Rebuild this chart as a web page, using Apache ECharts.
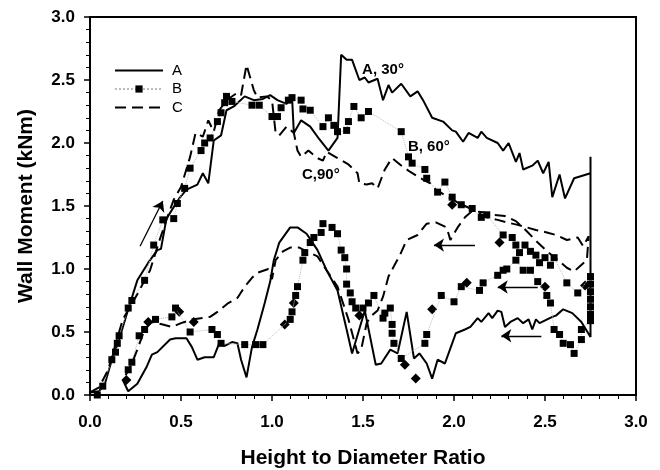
<!DOCTYPE html>
<html>
<head>
<meta charset="utf-8">
<script src="https://cdn.jsdelivr.net/npm/echarts@6/dist/echarts.min.js"></script>
<style>
html, body { margin: 0; padding: 0; background: #fff; }
#chart { width: 660px; height: 470px; }
</style>
</head>
<body>
<div id="chart"></div>
<script>
// A: solid, loading up to 2.75 then unloading back left
const curveA = [
    [0, 0.02], [0.05, 0.03], [0.08, 0.08], [0.12, 0.28], [0.16, 0.44], [0.21, 0.68], [0.26, 0.91], [0.32, 1.05],
    [0.37, 1.15], [0.39, 1.16], [0.42, 1.4], [0.49, 1.56], [0.53, 1.63], [0.59, 1.67], [0.62, 1.76], [0.65, 1.68],
    [0.68, 2.02], [0.72, 2.06], [0.75, 2.26], [0.79, 2.29], [0.85, 2.37], [0.9, 2.34], [0.95, 2.35], [0.99, 2.38],
    [1.03, 2.34], [1.08, 2.31], [1.11, 2.37], [1.12, 2.08], [1.16, 2.18], [1.21, 2.13], [1.26, 2.03], [1.31, 1.94],
    [1.36, 2.04], [1.38, 2.7], [1.41, 2.66], [1.44, 2.66], [1.48, 2.5], [1.51, 2.52], [1.53, 2.48], [1.58, 2.51],
    [1.61, 2.34], [1.64, 2.46], [1.66, 2.4], [1.71, 2.47], [1.76, 2.37], [1.8, 2.41], [1.83, 2.34], [1.88, 2.2],
    [1.94, 2.17], [1.99, 2.1], [2.01, 2.09], [2.05, 2.01], [2.08, 2.08], [2.13, 2.04], [2.15, 2.09], [2.18, 2.04],
    [2.24, 2.0], [2.27, 1.94], [2.3, 2.0], [2.34, 1.85], [2.36, 1.92], [2.38, 1.79], [2.43, 1.82], [2.46, 1.86],
    [2.49, 1.76], [2.52, 1.85], [2.54, 1.57], [2.58, 1.75], [2.61, 1.56], [2.66, 1.72], [2.75, 1.76], [2.75, 1.89],
    [2.75, 0.46],
    [2.7, 0.58], [2.65, 0.65], [2.6, 0.68], [2.56, 0.63], [2.54, 0.62], [2.47, 0.57], [2.45, 0.6], [2.43, 0.52],
    [2.41, 0.6], [2.38, 0.57], [2.35, 0.61], [2.31, 0.58], [2.28, 0.54], [2.26, 0.66], [2.24, 0.67], [2.21, 0.61],
    [2.19, 0.65], [2.15, 0.58], [2.13, 0.61], [2.09, 0.54], [2.06, 0.52], [2.01, 0.49], [1.99, 0.41], [1.95, 0.25],
    [1.91, 0.28], [1.88, 0.13], [1.85, 0.25], [1.81, 0.33], [1.78, 0.29], [1.74, 0.66], [1.69, 0.33], [1.65, 0.36],
    [1.6, 0.25], [1.57, 0.24], [1.51, 0.67], [1.44, 0.33], [1.41, 0.52], [1.36, 0.83], [1.3, 0.99], [1.25, 1.15],
    [1.19, 1.28], [1.14, 1.33], [1.1, 1.33], [1.04, 1.21], [1.01, 1.07], [0.99, 0.9], [0.96, 0.73], [0.92, 0.52],
    [0.89, 0.38], [0.86, 0.14], [0.83, 0.28], [0.81, 0.41], [0.78, 0.42], [0.74, 0.39], [0.71, 0.41], [0.68, 0.3],
    [0.63, 0.3], [0.59, 0.28], [0.56, 0.38], [0.53, 0.45], [0.47, 0.45], [0.44, 0.44], [0.37, 0.34], [0.34, 0.32],
    [0.31, 0.22], [0.26, 0.09], [0.21, 0.03], [0.18, 0.12]
];

// B: squares joined by a faint dotted line
const curveB = [
    [0.04, 0.0], [0.07, 0.07], [0.12, 0.28], [0.14, 0.34], [0.15, 0.41], [0.16, 0.47], [0.21, 0.69], [0.23, 0.75],
    [0.3, 0.91], [0.35, 1.19], [0.4, 1.39], [0.46, 1.4], [0.48, 1.52], [0.52, 1.64], [0.55, 1.8], [0.61, 1.94],
    [0.63, 2.0], [0.66, 2.04], [0.7, 2.17], [0.72, 2.24], [0.74, 2.32], [0.75, 2.37], [0.78, 2.33], [0.89, 2.3],
    [0.93, 2.3], [1.0, 2.21], [1.03, 2.21], [1.05, 2.28], [1.09, 2.34], [1.11, 2.36], [1.16, 2.34], [1.17, 2.27],
    [1.21, 2.26], [1.28, 2.13], [1.31, 2.2], [1.34, 2.14], [1.36, 2.09], [1.41, 2.1], [1.42, 2.17], [1.45, 2.29],
    [1.49, 2.2], [1.53, 2.25], [1.71, 2.09], [1.75, 1.89], [1.77, 1.84], [1.84, 1.79], [1.85, 1.72], [1.91, 1.61],
    [1.95, 1.69], [1.99, 1.57], [2.04, 1.51], [2.1, 1.48], [2.15, 1.41], [2.18, 1.43], [2.27, 1.27], [2.32, 1.25],
    [2.34, 1.19], [2.36, 1.13], [2.39, 1.19], [2.42, 1.14], [2.45, 1.11], [2.47, 1.05], [2.5, 1.09], [2.53, 1.03],
    [2.55, 1.09], [2.62, 0.89], [2.68, 0.81], [2.75, 0.94], [2.75, 0.88], [2.75, 0.82], [2.75, 0.76], [2.75, 0.7],
    [2.75, 0.64], [2.75, 0.59],
    [2.7, 0.52], [2.7, 0.44], [2.66, 0.33], [2.64, 0.4], [2.6, 0.41], [2.58, 0.48], [2.55, 0.52], [2.53, 0.73],
    [2.51, 0.79], [2.46, 0.9], [2.42, 0.99], [2.38, 0.99], [2.34, 1.07], [2.29, 1.0], [2.27, 0.99], [2.24, 0.95],
    [2.16, 0.89], [2.14, 0.83], [2.04, 0.86], [2.0, 0.74], [1.93, 0.79], [1.85, 0.48], [1.84, 0.41], [1.71, 0.29],
    [1.67, 0.41], [1.66, 0.49], [1.66, 0.56], [1.65, 0.69], [1.62, 0.65], [1.61, 0.61], [1.56, 0.79], [1.53, 0.73],
    [1.5, 0.69], [1.46, 0.69], [1.44, 0.74], [1.43, 0.81], [1.41, 0.88], [1.41, 1.0], [1.4, 1.09], [1.38, 1.15],
    [1.36, 1.28], [1.33, 1.33], [1.28, 1.36], [1.27, 1.29], [1.23, 1.25], [1.21, 1.21], [1.18, 1.13], [1.17, 1.07],
    [1.14, 0.86], [1.13, 0.79], [1.11, 0.66], [1.1, 0.6], [0.95, 0.4], [0.91, 0.4], [0.85, 0.4], [0.72, 0.41],
    [0.7, 0.48], [0.67, 0.52], [0.55, 0.5], [0.47, 0.69], [0.45, 0.62], [0.36, 0.6], [0.3, 0.52], [0.27, 0.47],
    [0.23, 0.26], [0.21, 0.2]
];

// diamond-shaped points printed along B
const diamondsB = [
    [0.2, 0.12], [0.32, 0.58], [0.49, 0.66], [0.57, 0.58], [1.07, 0.56], [1.12, 0.73], [1.48, 0.63], [1.73, 0.24],
    [1.79, 0.13], [1.88, 0.68], [2.07, 0.89], [2.5, 0.86], [2.72, 0.87], [2.25, 1.21], [1.99, 1.51]
];

// C: dashed
const curveC = [
    [0, 0.02], [0.05, 0.06], [0.1, 0.2], [0.18, 0.6], [0.26, 0.8], [0.33, 0.99], [0.38, 1.22], [0.42, 1.39],
    [0.46, 1.55], [0.5, 1.65], [0.55, 1.89], [0.58, 2.08], [0.62, 2.05], [0.65, 2.18], [0.68, 2.09], [0.71, 2.26],
    [0.75, 2.34], [0.81, 2.4], [0.83, 2.38], [0.86, 2.62], [0.9, 2.42], [0.92, 2.36], [0.97, 2.37], [1.0, 2.34],
    [1.02, 2.08], [1.04, 2.06], [1.08, 2.13], [1.12, 2.08], [1.14, 1.94], [1.16, 1.89], [1.2, 1.94], [1.25, 1.88],
    [1.28, 1.86], [1.3, 1.93], [1.36, 1.88], [1.42, 1.83], [1.47, 1.76], [1.48, 1.68], [1.52, 1.67], [1.55, 1.68],
    [1.58, 1.64], [1.62, 1.79], [1.65, 1.86], [1.66, 1.88], [1.72, 1.81], [1.76, 1.77], [1.83, 1.71], [1.87, 1.68],
    [1.9, 1.63], [1.98, 1.56], [2.03, 1.52], [2.09, 1.48], [2.14, 1.44], [2.18, 1.41], [2.24, 1.39], [2.29, 1.37],
    [2.35, 1.35], [2.4, 1.33], [2.45, 1.31], [2.51, 1.29], [2.56, 1.27], [2.62, 1.23], [2.68, 1.25], [2.71, 1.18],
    [2.74, 1.26],
    [2.73, 1.07], [2.69, 1.02], [2.66, 0.98], [2.62, 1.01], [2.58, 1.06], [2.52, 1.13], [2.46, 1.21], [2.4, 1.3],
    [2.34, 1.38], [2.28, 1.42], [2.22, 1.43], [2.16, 1.45], [2.1, 1.46], [2.06, 1.41], [2.02, 1.33], [1.98, 1.23],
    [1.96, 1.33], [1.9, 1.37], [1.85, 1.36], [1.8, 1.27], [1.74, 1.23], [1.7, 1.1], [1.68, 1.05], [1.64, 0.94],
    [1.61, 0.78], [1.58, 0.67], [1.54, 0.62], [1.52, 0.57], [1.49, 0.36], [1.47, 0.33], [1.42, 0.6], [1.36, 0.86],
    [1.3, 0.99], [1.25, 1.1], [1.19, 1.14], [1.15, 1.17], [1.1, 1.17], [1.06, 1.14], [1.02, 1.07], [1.0, 0.92],
    [0.98, 1.0], [0.92, 0.97], [0.89, 0.93], [0.85, 0.86], [0.81, 0.77], [0.76, 0.73], [0.7, 0.66], [0.66, 0.62],
    [0.56, 0.6], [0.5, 0.57], [0.45, 0.54], [0.4, 0.56], [0.34, 0.58], [0.3, 0.52], [0.26, 0.36], [0.23, 0.25],
    [0.19, 0.14], [0.18, 0.12]
];

// arrows: [fromX, fromY, toX, toY]
const arrows = [
    [0.275, 1.18, 0.40, 1.54],
    [2.115, 1.19, 1.89, 1.19],
    [2.46, 0.857, 2.24, 0.857],
    [2.48, 0.47, 2.26, 0.47]
];

// curve notes: [text, x, y]
const notes = [
    ['A, 30°', 1.495, 2.58],
    ['B, 60°', 1.747, 1.97],
    ['C,90°', 1.165, 1.75]
];

const font = '"Liberation Sans", Arial, sans-serif';
const chart = echarts.init(document.getElementById('chart'));

const axisCommon = {
    type: 'value', min: 0, max: 3, interval: 0.5,
    nameLocation: 'middle',
    nameTextStyle: {fontFamily: font, fontSize: 21, fontWeight: 'bold', color: '#000'},
    axisLine: {show: true, lineStyle: {color: '#000', width: 2}},
    axisTick: {show: true, inside: false, length: 6, lineStyle: {color: '#000', width: 1.5}},
    minorTick: {show: true, splitNumber: 5, length: 4, lineStyle: {color: '#000', width: 1}},
    splitLine: {show: false}
};

const option = {
    animation: false,
    grid: {
        left: 90, right: 24, top: 17, bottom: 75, show: true, borderColor: '#000', borderWidth: 2,
        outerBoundsMode: 'none', containLabel: false
    },
    legend: {
        data: [
            {name: 'A', itemStyle: {opacity: 0}},
            'B',
            {name: 'C', itemStyle: {opacity: 0}}
        ],
        orient: 'vertical',
        left: 114,
        top: 63,
        itemWidth: 48,
        itemHeight: 9,
        itemGap: 3.5,
        padding: 0,
        textStyle: {fontFamily: font, fontSize: 15, color: '#000', padding: [0, 0, 0, 4]}
    },
    xAxis: Object.assign({}, axisCommon, {
        name: 'Height to Diameter Ratio', nameGap: 53,
        axisLabel: {fontFamily: font, fontSize: 17, fontWeight: 'bold', color: '#000', margin: 19,
            formatter: v => v.toFixed(1)}
    }),
    yAxis: Object.assign({}, axisCommon, {
        name: 'Wall Moment (kNm)', nameGap: 53, nameRotate: 90,
        axisLabel: {fontFamily: font, fontSize: 17, fontWeight: 'bold', color: '#000', margin: 15,
            formatter: v => v.toFixed(1)}
    }),
    series: [
        {
            name: 'A', type: 'line', data: curveA, showSymbol: false, symbol: 'none',
            lineStyle: {color: '#000', width: 2}, itemStyle: {color: '#000'}
        },
        {
            name: 'B', type: 'line', data: curveB, symbol: 'rect', symbolSize: 7, showSymbol: true,
            lineStyle: {color: '#bbb', width: 1, type: 'dotted'}, itemStyle: {color: '#000'}
        },
        {
            name: 'B diamonds', type: 'scatter', data: diamondsB, symbol: 'diamond', symbolSize: 10,
            itemStyle: {color: '#000', opacity: 1}
        },
        {
            name: 'C', type: 'line', data: curveC, showSymbol: false, symbol: 'none',
            lineStyle: {color: '#000', width: 2, type: [11, 6]}, itemStyle: {color: '#000'}
        },
        {
            name: 'arrows', type: 'line', data: [],
            markLine: {
                silent: true, animation: false,
                symbol: ['none', 'arrow'], symbolSize: 10,
                label: {show: false},
                lineStyle: {color: '#000', type: 'solid', width: 1.3},
                data: arrows.map(a => [{coord: [a[0], a[1]]}, {coord: [a[2], a[3]]}])
            }
        }
    ]
};

chart.setOption(option);

chart.setOption({
    graphic: notes.map(n => {
        const p = chart.convertToPixel({gridIndex: 0}, [n[1], n[2]]);
        return {
            type: 'text', x: p[0], y: p[1],
            style: {text: n[0], font: 'bold 15px ' + font, fill: '#000', verticalAlign: 'middle', align: 'left'}
        };
    })
});
</script>
</body>
</html>
